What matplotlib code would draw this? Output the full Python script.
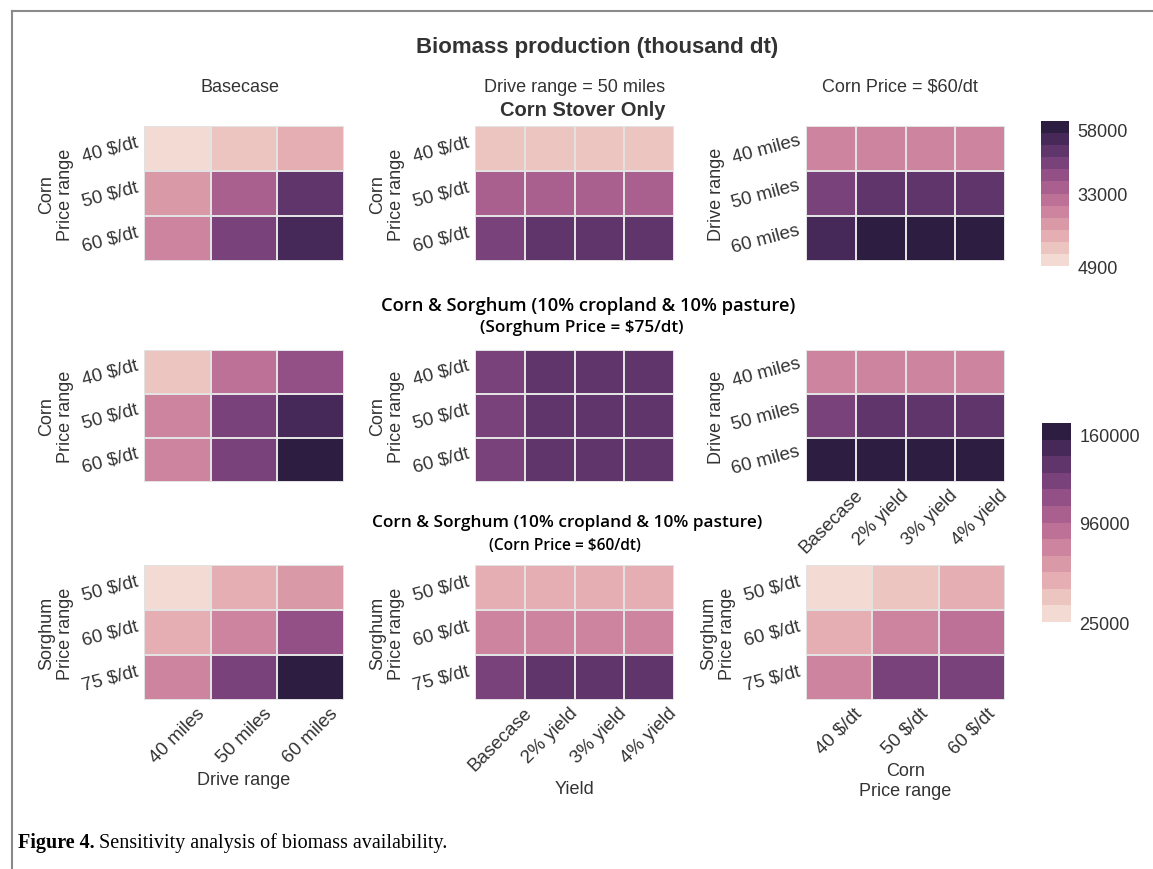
import matplotlib
matplotlib.use("Agg")
import matplotlib.pyplot as plt
import seaborn as sns
import numpy as np
from matplotlib.colors import ListedColormap, Normalize
from matplotlib.cm import ScalarMappable
from matplotlib.lines import Line2D

# tick labels
corn_price = ['40 $/dt', '50 $/dt', '60 $/dt']
sorghum_price = ['50 $/dt', '60 $/dt', '75 $/dt']
drive_range = ['40 miles', '50 miles', '60 miles']
yield_cases = ['Basecase', '2% yield', '3% yield', '4% yield']

# corn stover only (thousand dt)
stover_base = [[4900, 11500, 16000],
               [20500, 33500, 47000],
               [25000, 42500, 51500]]
stover_drive50 = [[11500, 11500, 11500, 11500],
                  [33500, 33500, 33500, 33500],
                  [42500, 47000, 47000, 47000]]
stover_corn60 = [[25000, 25000, 25000, 25000],
                 [42500, 47000, 47000, 47000],
                 [51500, 58000, 58000, 57500]]

# corn & sorghum, sorghum price = $75/dt
cs_base = [[42000, 87000, 109000],
           [75500, 120500, 143000],
           [75500, 120500, 160000]]
cs_drive50 = [[120500, 132000, 132000, 132000],
              [120500, 132000, 132000, 132000],
              [120500, 132000, 132000, 132000]]
cs_corn60 = [[75500, 75500, 75500, 75500],
             [120500, 132000, 132000, 132000],
             [160000, 158000, 158000, 158000]]

# corn & sorghum, corn price = $60/dt
sg_base = [[28000, 53000, 64500],
           [53000, 78000, 109000],
           [76000, 120500, 160000]]
sg_drive50 = [[53000, 53000, 53000, 53000],
              [78000, 78000, 78000, 78000],
              [120500, 132000, 132000, 132000]]
sg_cornprice = [[25000, 42000, 53000],
                [53000, 78000, 87000],
                [76000, 120500, 120500]]

cbar1_range = (4900, 58000)
cbar1_labels = ['4900', '33000', '58000']
cbar2_range = (25000, 160000)
cbar2_labels = ['25000', '96000', '160000']

W, H = 1153, 870
plt.rcParams['font.family'] = ['Liberation Sans', 'DejaVu Sans']
plt.rcParams['text.color'] = '#333333'
plt.rcParams['axes.labelcolor'] = '#333333'
plt.rcParams['xtick.color'] = '#333333'
plt.rcParams['ytick.color'] = '#333333'

n_levels = 12
cmap = ListedColormap(sns.cubehelix_palette(n_levels, light=0.88, hue=0.9))

fig = plt.figure(figsize=(W / 100, H / 100), dpi=100)


def box(x0, y0, x1, y1):
    return fig.add_axes([x0 / W, 1 - y1 / H, (x1 - x0) / W, (y1 - y0) / H])


col_x = [(144, 344), (475, 674), (806, 1005)]
row_y = [(127, 262), (351, 483), (566, 701)]

panels = [
    [(stover_base, corn_price, drive_range, 'Corn\nPrice range', ''),
     (stover_drive50, corn_price, yield_cases, 'Corn\nPrice range', ''),
     (stover_corn60, drive_range, yield_cases, 'Drive range', '')],
    [(cs_base, corn_price, drive_range, 'Corn\nPrice range', ''),
     (cs_drive50, corn_price, yield_cases, 'Corn\nPrice range', ''),
     (cs_corn60, drive_range, yield_cases, 'Drive range', '')],
    [(sg_base, sorghum_price, drive_range, 'Sorghum\nPrice range', 'Drive range'),
     (sg_drive50, sorghum_price, yield_cases, 'Sorghum\nPrice range', 'Yield'),
     (sg_cornprice, sorghum_price, corn_price, 'Sorghum\nPrice range', 'Corn\nPrice range')],
]

for r in range(3):
    vmin, vmax = cbar1_range if r == 0 else cbar2_range
    for c in range(3):
        data, ylabs, xlabs, ylab, xlab = panels[r][c]
        ax = box(col_x[c][0], row_y[r][0], col_x[c][1], row_y[r][1])
        show_x = (r == 2) or (r == 1 and c == 2)
        sns.heatmap(np.array(data), ax=ax, cmap=cmap, vmin=vmin, vmax=vmax,
                    cbar=False, linewidths=1.2, linecolor='#e2e2e2',
                    xticklabels=xlabs if show_x else False, yticklabels=ylabs)
        ax.tick_params(length=0, labelsize=13.5, pad=3)
        plt.setp(ax.get_yticklabels(), rotation=15, ha='right', va='center')
        if show_x:
            plt.setp(ax.get_xticklabels(), rotation=45, ha='center')
        ax.set_ylabel(ylab, fontsize=13, labelpad=4)
        ax.set_xlabel(xlab, fontsize=13)

for (x0, y0, x1, y1), (vmin, vmax), labs in [((1041, 122, 1069, 267), cbar1_range, cbar1_labels),
                                              ((1042, 424, 1071, 623), cbar2_range, cbar2_labels)]:
    cax = box(x0, y0, x1, y1)
    sm = ScalarMappable(norm=Normalize(vmin, vmax), cmap=cmap)
    cb = fig.colorbar(sm, cax=cax)
    cb.outline.set_visible(False)
    band = (vmax - vmin) / n_levels
    cb.set_ticks([vmin, (vmin + vmax) / 2, vmax - 0.7 * band])
    cb.set_ticklabels(labs)
    cb.ax.tick_params(length=0, labelsize=13, pad=6)

# headings
fig.text(597 / W, 1 - 47 / H, 'Biomass production (thousand dt)', fontsize=16,
         fontweight='bold', ha='center', va='center')
fig.text(240 / W, 1 - 87 / H, 'Basecase', fontsize=13, ha='center', va='center')
fig.text(575 / W, 1 - 87 / H, 'Drive range = 50 miles', fontsize=13, ha='center', va='center')
fig.text(900 / W, 1 - 87 / H, 'Corn Price = $60/dt', fontsize=13, ha='center', va='center')
fig.text(583 / W, 1 - 110 / H, 'Corn Stover Only', fontsize=14.5, fontweight='bold',
         ha='center', va='center')

sec_font = dict(family=['Open Sans', 'DejaVu Sans'], fontweight='semibold', color='black',
                ha='center', va='center')
fig.text(588 / W, 1 - 306 / H, 'Corn & Sorghum (10% cropland & 10% pasture)', fontsize=13.2, **sec_font)
fig.text(582 / W, 1 - 328 / H, '(Sorghum Price = $75/dt)', fontsize=12.3, **sec_font)
fig.text(567 / W, 1 - 523 / H, 'Corn & Sorghum (10% cropland & 10% pasture)', fontsize=12.4, **sec_font)
fig.text(565 / W, 1 - 546 / H, '(Corn Price = $60/dt)', fontsize=11.2, **sec_font)

# caption
t1 = fig.text(18 / W, 1 - 843 / H, 'Figure 4.', fontsize=14.5, fontweight='bold',
              family='Liberation Serif', color='black', va='center')
bb = t1.get_window_extent(fig.canvas.get_renderer())
fig.text((bb.x1 + 4) / W, 1 - 843 / H, 'Sensitivity analysis of biomass availability.',
         fontsize=14.5, family='Liberation Serif', color='black', va='center')

# page frame
fig.add_artist(Line2D([12 / W, 12 / W], [0, 1 - 12 / H], color='#8a8a8a', lw=1.5))
fig.add_artist(Line2D([12 / W, 1], [1 - 12 / H, 1 - 12 / H], color='#8a8a8a', lw=1.5))

fig.savefig('out.png', dpi=100)
